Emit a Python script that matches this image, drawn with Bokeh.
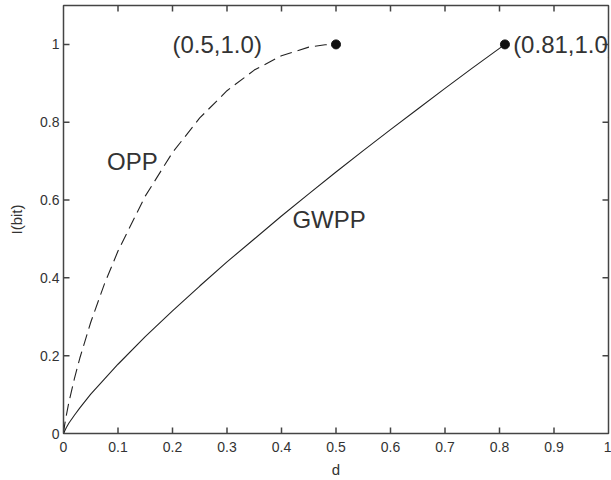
from bokeh.plotting import figure
from bokeh.models import Range1d, FixedTicker, ColumnDataSource
from bokeh.core.properties import value
from bokeh.embed import file_html
from bokeh.resources import INLINE

# ---- data ----
opp_d = [0.0, 0.001, 0.002, 0.005, 0.01, 0.02, 0.03, 0.05, 0.075, 0.1, 0.15, 0.2, 0.25, 0.3, 0.35, 0.4, 0.45, 0.48, 0.5]
opp_i = [0.0, 0.011, 0.021, 0.045, 0.081, 0.141, 0.194, 0.286, 0.384, 0.469, 0.610, 0.722, 0.811, 0.881, 0.934, 0.971, 0.993, 0.999, 1.0]

gwpp_d = [0.0, 0.005, 0.01, 0.02, 0.03, 0.05, 0.075, 0.1, 0.15, 0.2, 0.25, 0.3, 0.35, 0.4, 0.45, 0.5, 0.55, 0.6, 0.65, 0.7, 0.75, 0.81]
gwpp_i = [0.0, 0.015, 0.027, 0.047, 0.066, 0.101, 0.140, 0.178, 0.249, 0.315, 0.379, 0.441, 0.500, 0.559, 0.616, 0.672, 0.727, 0.781, 0.834, 0.887, 0.939, 1.0]

end_d = [0.5, 0.81]
end_i = [1.0, 1.0]

label_text = ["(0.5,1.0)", "(0.81,1.0)", "OPP", "GWPP"]
label_d = [0.2, 0.825, 0.08, 0.42]
label_i = [1.0, 1.0, 0.70, 0.55]

x_ticks = [0, 0.1, 0.2, 0.3, 0.4, 0.5, 0.6, 0.7, 0.8, 0.9, 1]
y_ticks = [0, 0.2, 0.4, 0.6, 0.8, 1]
x_min, x_max = 0, 1
y_min, y_max = 0, 1.1

FONT = "Liberation Sans"
TXT = "#333333"
LINE = "#444444"

W, H = 611, 480
BL, BR, BT, BB = 63, 3, 5, 45
TICK_PX = 6

p = figure(width=W, height=H, output_backend="svg", toolbar_location=None,
           x_range=Range1d(x_min, x_max), y_range=Range1d(y_min, y_max),
           min_border_left=BL, min_border_right=BR, min_border_top=BT, min_border_bottom=BB)
p.grid.visible = False
p.outline_line_color = LINE
p.outline_line_width = 1.5
p.background_fill_color = "white"
p.border_fill_color = "white"

for ax in (p.xaxis[0], p.yaxis[0]):
    ax.major_tick_in = 0
    ax.major_tick_out = 0
    ax.minor_tick_line_color = None
    ax.axis_line_color = LINE
    ax.major_label_text_font = FONT
    ax.major_label_text_color = TXT
    ax.major_label_text_font_size = "14px"
    ax.axis_label_text_font = FONT
    ax.axis_label_text_font_size = "15px"
    ax.axis_label_text_font_style = "normal"
    ax.axis_label_text_color = TXT

xa = p.xaxis[0]
xa.ticker = FixedTicker(ticks=x_ticks)
xa.major_label_standoff = 8
xa.axis_label = "d"
xa.axis_label_standoff = 6

ya = p.yaxis[0]
ya.ticker = FixedTicker(ticks=y_ticks)
ya.major_label_standoff = 4
ya.axis_label = "I(bit)"
ya.axis_label_standoff = 12

# inward tick marks on all four sides (mirrored box ticks), tick length in data units
dy = TICK_PX * (y_max - y_min) / (H - BT - BB)
dx = TICK_PX * (x_max - x_min) / (W - BL - BR)
inner_x = x_ticks[1:-1]
inner_y = y_ticks[1:]
tick_src_b = ColumnDataSource(dict(x0=inner_x, y0=[y_min] * len(inner_x), x1=inner_x, y1=[y_min + dy] * len(inner_x)))
tick_src_t = ColumnDataSource(dict(x0=inner_x, y0=[y_max] * len(inner_x), x1=inner_x, y1=[y_max - dy] * len(inner_x)))
tick_src_l = ColumnDataSource(dict(x0=[x_min] * len(inner_y), y0=inner_y, x1=[x_min + dx] * len(inner_y), y1=inner_y))
tick_src_r = ColumnDataSource(dict(x0=[x_max] * len(inner_y), y0=inner_y, x1=[x_max - dx] * len(inner_y), y1=inner_y))
for s in (tick_src_b, tick_src_t, tick_src_l, tick_src_r):
    p.segment(x0="x0", y0="y0", x1="x1", y1="y1", source=s, line_color=LINE, line_width=1.5)

p.line(opp_d, opp_i, line_color="#222222", line_width=1.1, line_dash="12 6")
p.line(gwpp_d, gwpp_i, line_color="#222222", line_width=1.1)
p.scatter(end_d, end_i, size=9, marker="circle", fill_color="#111111", line_color="#111111")

src = ColumnDataSource(dict(x=label_d, y=label_i, t=label_text))
p.text(x="x", y="y", text="t", source=src, text_font=value(FONT), text_font_size="24px",
       text_color=TXT, text_align="left", text_baseline="middle")

open("out.html", "w").write(file_html(p, INLINE))
